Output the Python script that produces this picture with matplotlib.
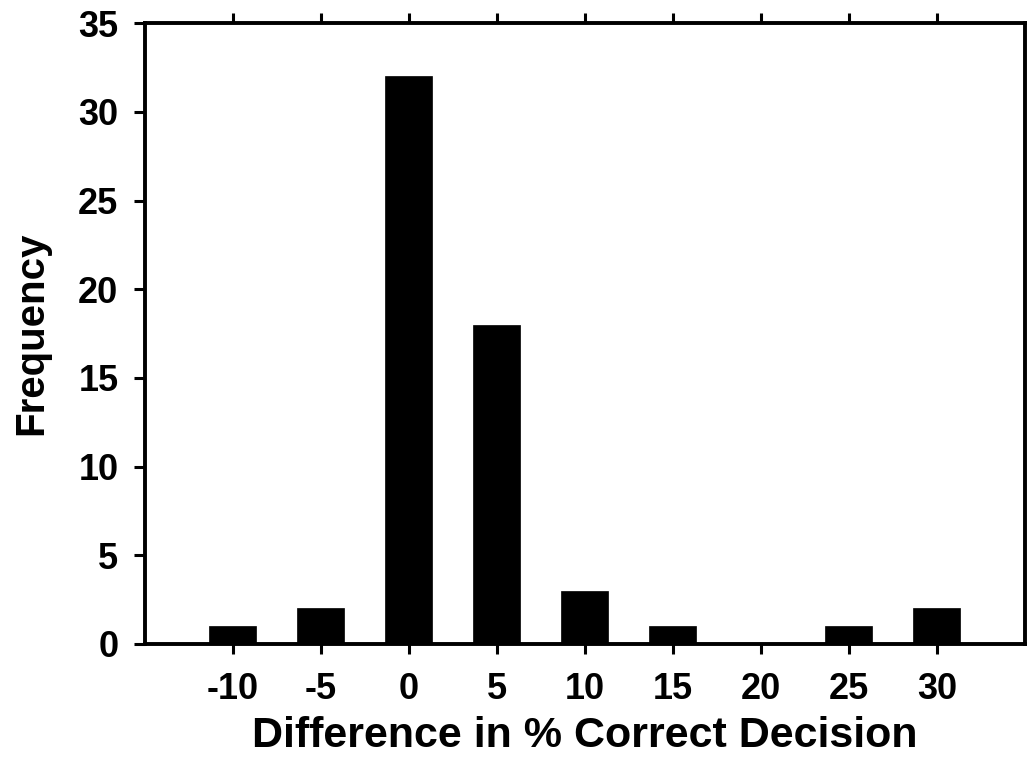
import matplotlib
matplotlib.use("Agg")
import matplotlib.pyplot as plt

categories = [-10, -5, 0, 5, 10, 15, 20, 25, 30]
frequency = [1, 2, 32, 18, 3, 1, 0, 1, 2]
y_ticks = [0, 5, 10, 15, 20, 25, 30, 35]

plt.rcParams['font.family'] = ['Liberation Sans', 'DejaVu Sans']
plt.rcParams['font.weight'] = 'bold'

fig = plt.figure(figsize=(10.27, 7.74), dpi=100)
ax = fig.add_axes([0.141, 0.168, 0.857, 0.802])

ax.bar(categories, frequency, width=2.67, color='black', edgecolor='black', linewidth=0.5)

ax.set_xlim(-15, 35)
ax.set_ylim(0, 35)
ax.set_xticks(categories)
ax.set_yticks(y_ticks)
ax.set_xticklabels([str(c) for c in categories], fontsize=26, fontweight='bold')
ax.set_yticklabels([str(t) for t in y_ticks], fontsize=26, fontweight='bold')

for s in ax.spines.values():
    s.set_linewidth(2.8)

ax.tick_params(axis='x', which='both', direction='out', length=7.5, width=2.2,
               top=True, bottom=True, pad=13)
ax.tick_params(axis='y', which='both', direction='out', length=8, width=2.2,
               left=True, right=False, pad=11)

ax.set_xlabel('Difference in % Correct Decision', fontsize=31, fontweight='bold', labelpad=6)
ax.yaxis.set_label_coords(-0.107, 0.5)
ax.set_ylabel('Frequency', fontsize=29, fontweight='bold')

fig.savefig('out.png', dpi=100)
